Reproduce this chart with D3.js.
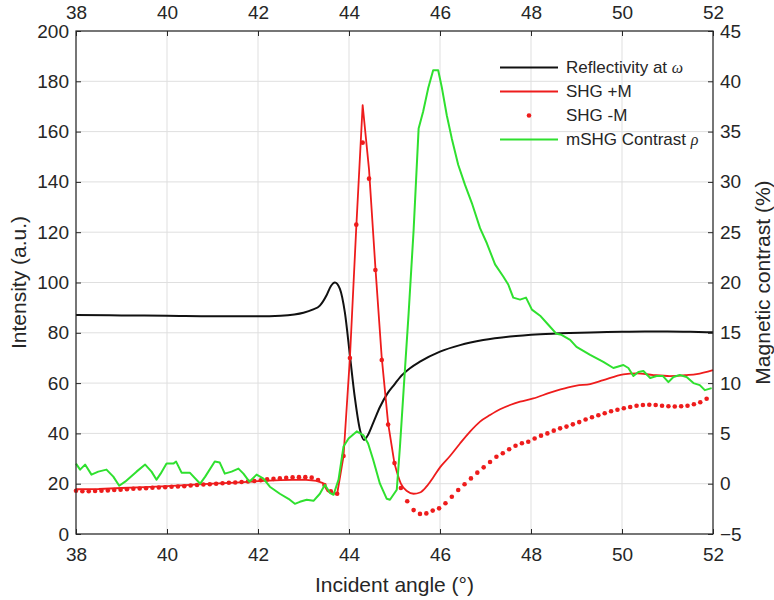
<!DOCTYPE html>
<html><head><meta charset="utf-8">
<script src="https://cdn.jsdelivr.net/npm/d3@7"></script>
<style>
body{margin:0;background:#fff}
text{font-family:"Liberation Sans",Arial,Helvetica,sans-serif;fill:#262626}
</style>
</head><body>
<svg id="chart" width="774" height="600"></svg>
<script>
// ---------- data ----------
const xTicks = [38, 40, 42, 44, 46, 48, 50, 52];
const leftTicks = [0, 20, 40, 60, 80, 100, 120, 140, 160, 180, 200];
const rightTicks = [-5, 0, 5, 10, 15, 20, 25, 30, 35, 40, 45];

const seriesNames = ["Reflectivity at ", "SHG +M", "SHG -M", "mSHG Contrast "];

// Reflectivity at omega (left axis)
const reflAngle = [38.0, 39.0, 40.0, 41.0, 42.0, 42.5, 42.8, 43.0, 43.2, 43.36, 43.51, 43.6, 43.69, 43.8, 43.91, 44.02, 44.13, 44.24, 44.33, 44.42, 44.55, 44.68, 44.85, 45.0, 45.12, 45.34, 45.56, 46.0, 46.44, 46.95, 47.54, 48.2, 48.86, 49.5, 50.0, 50.5, 51.0, 51.5, 52.0];
const reflValue = [87.1, 86.9, 86.8, 86.6, 86.6, 86.8, 87.3, 88.0, 89.2, 90.8, 95.0, 98.5, 100.0, 97.5, 88.0, 71.0, 54.0, 41.5, 37.4, 39.5, 45.0, 50.5, 56.0, 59.5, 62.3, 65.9, 68.5, 72.5, 75.1, 77.1, 78.5, 79.4, 79.9, 80.2, 80.4, 80.5, 80.5, 80.4, 80.2];

// SHG +M (left axis, line): sharp part up to 45.0, smooth tail afterwards
const shgPlusAngle = [38.0, 38.5, 39.0, 39.5, 40.0, 40.5, 41.0, 41.5, 42.0, 42.5, 43.0, 43.29, 43.43, 43.53, 43.62, 43.74, 43.88, 44.02, 44.16, 44.30, 44.44, 44.58, 44.72, 44.86, 45.0];
const shgPlusValue = [17.8, 17.9, 18.3, 18.6, 19.0, 19.5, 20.0, 20.4, 21.0, 21.4, 21.6, 21.1, 20.2, 17.0, 16.2, 16.0, 31.0, 70.0, 122.0, 170.5, 145.0, 106.0, 70.0, 44.0, 28.0];
const shgPlusTailAngle = [45.0, 45.14, 45.28, 45.42, 45.56, 45.7, 45.85, 46.0, 46.22, 46.44, 46.66, 46.88, 47.1, 47.32, 47.54, 47.76, 48.05, 48.42, 48.82, 49.0, 49.3, 49.59, 50.03, 50.32, 50.69, 51.05, 51.42, 51.64, 52.0];
const shgPlusTailValue = [28.0, 20.0, 17.0, 16.0, 16.5, 18.8, 22.5, 26.5, 31.0, 36.0, 40.7, 44.7, 47.3, 49.6, 51.3, 52.6, 53.9, 56.2, 58.3, 59.0, 59.6, 61.2, 63.5, 63.9, 63.2, 62.8, 63.2, 63.6, 65.2];

// SHG -M (left axis, dots)
const shgMinusAngle = [38.00, 38.14, 38.28, 38.42, 38.56, 38.70, 38.84, 38.98, 39.12, 39.26, 39.40, 39.54, 39.68, 39.82, 39.96, 40.10, 40.24, 40.38, 40.52, 40.66, 40.80, 40.94, 41.08, 41.22, 41.36, 41.50, 41.64, 41.78, 41.92, 42.06, 42.20, 42.34, 42.48, 42.62, 42.76, 42.90, 43.04, 43.18, 43.32, 43.46, 43.60, 43.74, 43.88, 44.02, 44.16, 44.30, 44.44, 44.58, 44.72, 44.86, 45.00, 45.14, 45.28, 45.42, 45.56, 45.70, 45.84, 45.98, 46.12, 46.26, 46.40, 46.54, 46.68, 46.82, 46.96, 47.10, 47.24, 47.38, 47.52, 47.66, 47.80, 47.94, 48.08, 48.22, 48.36, 48.50, 48.64, 48.78, 48.92, 49.06, 49.20, 49.34, 49.48, 49.62, 49.76, 49.90, 50.04, 50.18, 50.32, 50.46, 50.60, 50.74, 50.88, 51.02, 51.16, 51.30, 51.44, 51.58, 51.72, 51.86];
const shgMinusValue = [17.2, 17.0, 17.0, 17.1, 17.2, 17.3, 17.5, 17.6, 17.8, 18.0, 18.1, 18.2, 18.4, 18.5, 18.6, 18.8, 18.9, 19.0, 19.3, 19.5, 19.7, 19.8, 20.0, 20.2, 20.4, 20.5, 20.7, 20.9, 21.1, 21.4, 21.7, 21.9, 22.1, 22.3, 22.5, 22.6, 22.6, 22.4, 21.5, 19.5, 17.0, 16.0, 31.0, 70.0, 123.0, 155.6, 141.3, 105.0, 69.2, 43.5, 28.2, 18.3, 13.0, 9.5, 8.0, 8.2, 9.3, 10.2, 12.2, 14.8, 17.5, 19.8, 22.1, 24.4, 26.5, 28.6, 30.7, 32.1, 33.7, 35.1, 36.1, 36.7, 38.0, 39.1, 40.0, 41.1, 42.0, 42.7, 43.6, 44.5, 45.5, 46.4, 47.2, 48.0, 48.8, 49.4, 50.0, 50.5, 51.0, 51.3, 51.4, 51.3, 51.0, 50.8, 50.7, 50.8, 51.0, 51.6, 52.4, 53.8];

// mSHG contrast rho (right axis, %)
const contrastAngle = [38.00, 38.09, 38.20, 38.34, 38.49, 38.67, 38.82, 38.95, 39.08, 39.33, 39.52, 39.66, 39.77, 39.86, 39.99, 40.14, 40.20, 40.32, 40.50, 40.73, 40.84, 41.05, 41.16, 41.27, 41.42, 41.57, 41.68, 41.81, 41.97, 42.12, 42.26, 42.48, 42.67, 42.81, 42.92, 43.07, 43.22, 43.36, 43.47, 43.58, 43.66, 43.77, 43.88, 43.99, 44.17, 44.32, 44.42, 44.53, 44.68, 44.83, 44.90, 45.05, 45.12, 45.20, 45.31, 45.42, 45.53, 45.63, 45.74, 45.85, 45.96, 46.04, 46.15, 46.26, 46.40, 46.55, 46.70, 46.88, 47.03, 47.21, 47.39, 47.50, 47.61, 47.76, 47.89, 48.02, 48.20, 48.38, 48.56, 48.67, 48.86, 49.00, 49.30, 49.59, 49.81, 50.03, 50.14, 50.25, 50.36, 50.47, 50.62, 50.76, 50.90, 51.02, 51.13, 51.27, 51.42, 51.57, 51.71, 51.82, 51.97];
const contrastValue = [2.0, 1.4, 1.9, 0.9, 1.2, 1.4, 0.7, -0.2, 0.2, 1.2, 1.9, 1.2, 0.4, 1.0, 2.0, 2.0, 2.2, 1.1, 1.1, 0.0, 0.7, 2.2, 2.1, 1.0, 1.2, 1.5, 1.0, 0.2, 0.9, 0.5, -0.3, -1.0, -1.5, -2.0, -1.8, -1.6, -1.7, -1.0, -0.1, -0.9, -1.1, 0.4, 3.7, 4.5, 5.2, 4.8, 4.0, 2.4, 0.0, -1.5, -1.6, -0.6, 3.7, 9.3, 16.9, 25.2, 35.3, 37.0, 39.3, 41.1, 41.1, 39.4, 36.6, 34.3, 31.7, 29.7, 27.9, 25.4, 23.9, 21.8, 20.6, 19.8, 18.5, 18.3, 18.5, 17.3, 16.7, 15.8, 14.9, 14.8, 14.3, 13.6, 12.8, 12.1, 11.5, 11.8, 11.5, 10.7, 11.1, 11.2, 10.5, 10.7, 10.7, 10.1, 10.6, 10.8, 10.6, 10.0, 9.8, 9.3, 9.5];

// ---------- chart ----------
const svg = d3.select("#chart");
const L = 76, R = 713, T = 31, B = 534;
const x = d3.scaleLinear().domain([38, 52]).range([L, R]);
const yL = d3.scaleLinear().domain([0, 200]).range([B, T]);
const yR = d3.scaleLinear().domain([-5, 45]).range([B, T]);

const axisColor = "#262626";
const gridColor = "#dfdfdf";
const red = "#ee1c1c", green = "#2fe02f", black = "#111";

// grid
const grid = svg.append("g");
grid.selectAll("line.gx").data(xTicks).join("line")
  .attr("x1", d => x(d)).attr("x2", d => x(d)).attr("y1", T).attr("y2", B)
  .attr("stroke", gridColor).attr("stroke-width", 1);
grid.selectAll("line.gy").data(leftTicks).join("line")
  .attr("y1", d => yL(d)).attr("y2", d => yL(d)).attr("x1", L).attr("x2", R)
  .attr("stroke", gridColor).attr("stroke-width", 1);

// data
const mkLine = (ang, ys, curve) => d3.line().curve(curve || d3.curveLinear)
  .x((d, i) => x(ang[i])).y(d => ys(d));

svg.append("path").attr("d", mkLine(reflAngle, yL, d3.curveMonotoneX)(reflValue))
  .attr("fill", "none").attr("stroke", black).attr("stroke-width", 2);

svg.append("path").attr("d", mkLine(shgPlusAngle, yL)(shgPlusValue))
  .attr("fill", "none").attr("stroke", red).attr("stroke-width", 1.8).attr("stroke-linejoin", "round");
svg.append("path").attr("d", mkLine(shgPlusTailAngle, yL, d3.curveMonotoneX)(shgPlusTailValue))
  .attr("fill", "none").attr("stroke", red).attr("stroke-width", 1.8).attr("stroke-linejoin", "round");

svg.append("g").selectAll("circle").data(shgMinusValue).join("circle")
  .attr("cx", (d, i) => x(shgMinusAngle[i])).attr("cy", d => yL(d)).attr("r", 2.3)
  .attr("fill", red);

svg.append("path").attr("d", mkLine(contrastAngle, yR)(contrastValue))
  .attr("fill", "none").attr("stroke", green).attr("stroke-width", 2).attr("stroke-linejoin", "round");

// axes
function styleAxis(g) {
  g.select(".domain").remove();
  g.selectAll(".tick line").attr("stroke", axisColor).attr("stroke-width", 1);
  g.selectAll(".tick text").attr("fill", axisColor).style("font-size", "19px")
    .style("font-family", '"Liberation Sans", Arial, sans-serif');
}
svg.append("g").attr("transform", `translate(0,${B})`)
  .call(d3.axisBottom(x).tickValues(xTicks).tickSizeInner(-5).tickSizeOuter(0).tickPadding(14).tickFormat(d3.format("d")))
  .call(styleAxis);
svg.append("g").attr("transform", `translate(0,${T})`)
  .call(d3.axisTop(x).tickValues(xTicks).tickSizeInner(-5).tickSizeOuter(0).tickPadding(12).tickFormat(d3.format("d")))
  .call(styleAxis);
svg.append("g").attr("transform", `translate(${L},0)`)
  .call(d3.axisLeft(yL).tickValues(leftTicks).tickSizeInner(-5).tickSizeOuter(0).tickPadding(7).tickFormat(d3.format("d")))
  .call(styleAxis);
svg.append("g").attr("transform", `translate(${R},0)`)
  .call(d3.axisRight(yR).tickValues(rightTicks).tickSizeInner(-5).tickSizeOuter(0).tickPadding(7).tickFormat(d3.format("d")))
  .call(styleAxis);

// box
svg.append("rect").attr("x", L).attr("y", T).attr("width", R - L).attr("height", B - T)
  .attr("fill", "none").attr("stroke", axisColor).attr("stroke-width", 1.2);

// axis titles
svg.append("text").attr("x", (L + R) / 2).attr("y", 592).attr("text-anchor", "middle")
  .style("font-size", "21px").text("Incident angle (°)");
svg.append("text").attr("transform", `translate(26,${(T + B) / 2}) rotate(-90)`).attr("text-anchor", "middle")
  .style("font-size", "21px").text("Intensity (a.u.)");
svg.append("text").attr("transform", `translate(770,${(T + B) / 2}) rotate(-90)`).attr("text-anchor", "middle")
  .style("font-size", "21px").text("Magnetic contrast (%)");

// legend
const lg = svg.append("g");
const rowsY = [67.5, 91.5, 115.5, 139.5];
const lx1 = 500, lx2 = 558, tx = 566;
lg.append("line").attr("x1", lx1).attr("x2", lx2).attr("y1", rowsY[0]).attr("y2", rowsY[0]).attr("stroke", black).attr("stroke-width", 2);
lg.append("line").attr("x1", lx1).attr("x2", lx2).attr("y1", rowsY[1]).attr("y2", rowsY[1]).attr("stroke", red).attr("stroke-width", 1.8);
lg.append("circle").attr("cx", (lx1 + lx2) / 2).attr("cy", rowsY[2]).attr("r", 2.3).attr("fill", red);
lg.append("line").attr("x1", lx1).attr("x2", lx2).attr("y1", rowsY[3]).attr("y2", rowsY[3]).attr("stroke", green).attr("stroke-width", 2);
const greek = ["ω", "", "", "ρ"];
seriesNames.forEach((n, i) => {
  const t = lg.append("text").attr("x", tx).attr("y", rowsY[i]).attr("dy", "0.35em").style("font-size", "17px");
  t.append("tspan").text(n);
  if (greek[i]) t.append("tspan").style("font-family", '"Liberation Serif", "DejaVu Serif", serif')
    .style("font-style", "italic").style("font-size", "16px").text(greek[i]);
});
</script>
</body></html>
